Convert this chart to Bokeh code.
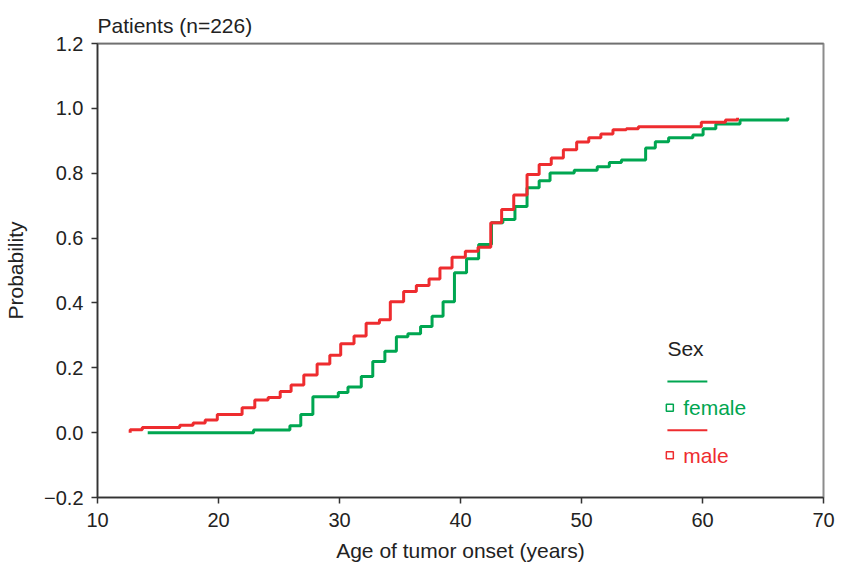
from bokeh.plotting import figure
from bokeh.models import FixedTicker, Range1d, Span
from bokeh.core.properties import value
from bokeh.embed import file_html
from bokeh.resources import INLINE

# ---- data ----
male_age = [12.7, 12.7, 13.7, 16.8, 17.9, 18.9, 19.9, 21.95, 23.0, 24.1, 25.1, 26.0, 27.05,
            28.15, 29.2, 30.1, 31.2, 32.2, 33.3, 34.2, 35.3, 36.35, 37.4, 38.3, 39.3, 40.4,
            41.45, 42.5, 43.4, 44.4, 45.5, 46.5, 47.5, 48.5, 49.6, 50.6, 51.6, 52.6, 53.7,
            54.7, 59.9, 61.9, 62.9]
male_prob = [0.0, 0.009, 0.016, 0.023, 0.030, 0.039, 0.056, 0.077, 0.101, 0.108, 0.127, 0.147,
             0.178, 0.212, 0.239, 0.274, 0.298, 0.337, 0.348, 0.404, 0.435, 0.454, 0.474, 0.508,
             0.541, 0.559, 0.572, 0.647, 0.688, 0.733, 0.796, 0.827, 0.847, 0.872, 0.896, 0.909,
             0.921, 0.934, 0.937, 0.943, 0.957, 0.964, 0.971]

female_age = [14.15, 22.9, 25.9, 26.8, 27.8, 29.9, 30.7, 31.8, 32.75, 33.75, 34.7, 35.65, 36.7,
              37.65, 38.56, 39.5, 40.5, 41.5, 42.56, 43.5, 44.5, 45.5, 46.5, 47.4, 49.4, 51.3,
              52.3, 53.3, 55.3, 56.1, 57.2, 59.2, 60.05, 61.1, 63.1, 67.05]
female_prob = [0.0, 0.008, 0.021, 0.056, 0.111, 0.124, 0.141, 0.173, 0.219, 0.251, 0.296, 0.305,
               0.327, 0.359, 0.404, 0.493, 0.536, 0.580, 0.647, 0.657, 0.697, 0.755, 0.777, 0.801,
               0.809, 0.820, 0.833, 0.841, 0.878, 0.897, 0.909, 0.918, 0.937, 0.952, 0.964, 0.972]

x_ticks = [10, 20, 30, 40, 50, 60, 70]
y_ticks = [-0.2, 0.0, 0.2, 0.4, 0.6, 0.8, 1.0, 1.2]
y_tick_labels = ["\u22120.2", "0.0", "0.2", "0.4", "0.6", "0.8", "1.0", "1.2"]

series_names = ["female", "male"]
series_colors = ["#00A651", "#EE2C2F"]
title_text = "Patients (n=226)"

FONT = "Liberation Sans"

p = figure(width=842, height=568, output_backend="svg", toolbar_location=None,
           x_range=Range1d(x_ticks[0], x_ticks[-1]), y_range=Range1d(y_ticks[0], y_ticks[-1]),
           min_border_left=97, min_border_right=19, min_border_top=43, min_border_bottom=71,
           title=title_text)

p.title.text_font = FONT
p.title.text_font_size = "21px"
p.title.text_font_style = "normal"
p.title.align = "left"
p.title.offset = 0
p.title.standoff = 14
p.title.text_color = "#222222"

p.grid.visible = False
p.background_fill_color = "white"
p.border_fill_color = "white"
p.outline_line_color = "#8c8c8c"
p.outline_line_width = 2

# darker top border line
p.add_layout(Span(location=y_ticks[-1], dimension="width", line_color="#555555", line_width=1.5))

for ax in (p.xaxis[0], p.yaxis[0]):
    ax.axis_line_color = "#333333"
    ax.axis_line_width = 1.5
    ax.major_tick_line_color = "#333333"
    ax.major_tick_line_width = 1.5
    ax.major_tick_out = 6
    ax.major_tick_in = 0
    ax.minor_tick_line_color = None
    ax.major_label_text_font = FONT
    ax.major_label_text_font_size = "20px"
    ax.major_label_text_color = "#222222"
    ax.axis_label_text_font = FONT
    ax.axis_label_text_font_size = "21px"
    ax.axis_label_text_font_style = "normal"
    ax.axis_label_text_color = "#222222"

p.xaxis.ticker = FixedTicker(ticks=x_ticks)
p.yaxis.ticker = FixedTicker(ticks=y_ticks)
p.yaxis.major_label_overrides = {t: s for t, s in zip(y_ticks, y_tick_labels)}
p.xaxis.axis_label = "Age of tumor onset (years)"
p.yaxis.axis_label = "Probability"
p.xaxis.major_label_standoff = 9
p.yaxis.major_label_standoff = 8
p.xaxis.axis_label_standoff = 9
p.yaxis.axis_label_standoff = 14

p.step(female_age, female_prob, mode="after", line_color=series_colors[0], line_width=3)
p.step(male_age, male_prob, mode="after", line_color=series_colors[1], line_width=3)

# ---- legend block (annotation) ----
leg_x0, leg_x1 = 57.1, 60.4
p.text([leg_x0], [0.259], text=["Sex"], text_font=value(FONT), text_font_size="21px",
       text_color="#222222", text_baseline="middle", text_align="left")
leg_line_y = [0.158, 0.007]
leg_mark_y = [0.077, -0.070]
for name, col, ly, my in zip(series_names, series_colors, leg_line_y, leg_mark_y):
    p.segment([leg_x0], [ly], [leg_x1], [ly], line_color=col, line_width=2)
    p.scatter([leg_x0 + 0.2], [my], marker="square", size=7, fill_color=None,
              line_color=col, line_width=1.5)
    p.text([leg_x0 + 1.3], [my], text=[name], text_font=value(FONT), text_font_size="21px",
           text_color=col, text_baseline="middle", text_align="left")

open("out.html", "w").write(file_html(p, INLINE))
